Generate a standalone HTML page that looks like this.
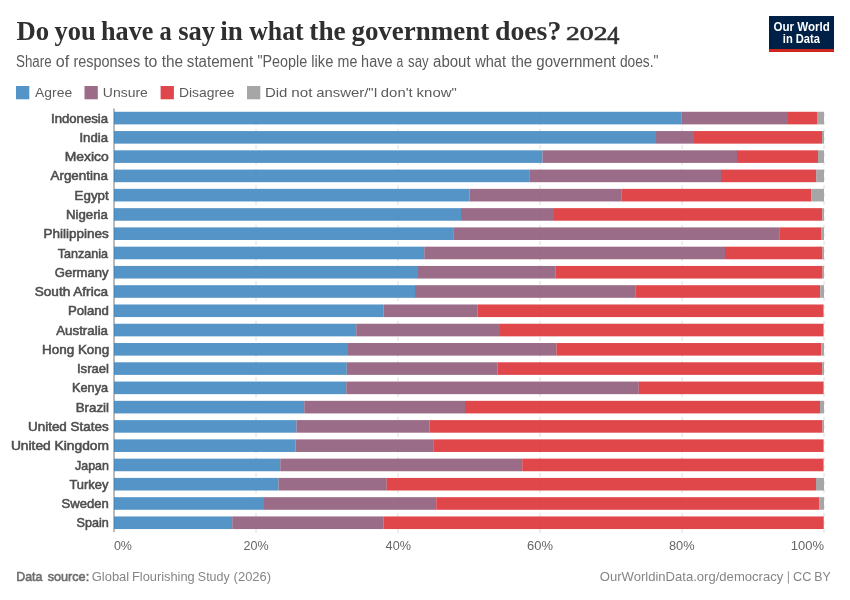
<!DOCTYPE html>
<html lang="en"><head><meta charset="utf-8"><title>Do you have a say in what the government does?</title>
<style>html,body{margin:0;padding:0;background:#fff;}body{width:850px;height:600px;overflow:hidden;font-family:"Liberation Sans",sans-serif;}svg{display:block;will-change:transform;}text{font-family:"Liberation Sans",sans-serif;white-space:pre;}.serif{font-family:"Liberation Serif",serif;}</style>
</head><body>
<svg width="850" height="600" viewBox="0 0 850 600">
<rect width="850" height="600" fill="#fff"/>
<rect x="769" y="16" width="65" height="36" fill="#002147"/>
<rect x="769" y="49" width="65" height="3" fill="#ce261e"/>
<rect x="16" y="86" width="13.3" height="13.3" fill="#5594c6"/>
<rect x="84.5" y="86" width="13.3" height="13.3" fill="#9b6c87"/>
<rect x="160.6" y="86" width="13.3" height="13.3" fill="#e0474c"/>
<rect x="247" y="86" width="13.3" height="13.3" fill="#a6a6a6"/>
<line x1="256.0" y1="533" x2="256.0" y2="110" stroke="#dcdcdc" stroke-width="1" stroke-dasharray="4,4"/>
<line x1="398.0" y1="533" x2="398.0" y2="110" stroke="#dcdcdc" stroke-width="1" stroke-dasharray="4,4"/>
<line x1="540.0" y1="533" x2="540.0" y2="110" stroke="#dcdcdc" stroke-width="1" stroke-dasharray="4,4"/>
<line x1="682.0" y1="533" x2="682.0" y2="110" stroke="#dcdcdc" stroke-width="1" stroke-dasharray="4,4"/>
<line x1="824.0" y1="533" x2="824.0" y2="110" stroke="#dcdcdc" stroke-width="1" stroke-dasharray="4,4"/>
<line x1="114" y1="108.5" x2="114" y2="532" stroke="#787878" stroke-width="1"/>
<rect x="114.00" y="111.78" width="567.50" height="12.6" fill="#3781bc" fill-opacity="0.85"/>
<rect x="681.50" y="111.78" width="106.50" height="12.6" fill="#895272" fill-opacity="0.85"/>
<rect x="788.00" y="111.78" width="29.00" height="12.6" fill="#db272c" fill-opacity="0.85"/>
<rect x="817.00" y="111.78" width="7.00" height="12.6" fill="#969696" fill-opacity="0.85"/>
<rect x="114.00" y="131.05" width="542.00" height="12.6" fill="#3781bc" fill-opacity="0.85"/>
<rect x="656.00" y="131.05" width="38.00" height="12.6" fill="#895272" fill-opacity="0.85"/>
<rect x="694.00" y="131.05" width="128.00" height="12.6" fill="#db272c" fill-opacity="0.85"/>
<rect x="822.00" y="131.05" width="2.00" height="12.6" fill="#969696" fill-opacity="0.85"/>
<rect x="114.00" y="150.32" width="428.50" height="12.6" fill="#3781bc" fill-opacity="0.85"/>
<rect x="542.50" y="150.32" width="194.50" height="12.6" fill="#895272" fill-opacity="0.85"/>
<rect x="737.00" y="150.32" width="81.00" height="12.6" fill="#db272c" fill-opacity="0.85"/>
<rect x="818.00" y="150.32" width="6.00" height="12.6" fill="#969696" fill-opacity="0.85"/>
<rect x="114.00" y="169.59" width="415.25" height="12.6" fill="#3781bc" fill-opacity="0.85"/>
<rect x="529.25" y="169.59" width="191.75" height="12.6" fill="#895272" fill-opacity="0.85"/>
<rect x="721.00" y="169.59" width="95.25" height="12.6" fill="#db272c" fill-opacity="0.85"/>
<rect x="816.25" y="169.59" width="7.75" height="12.6" fill="#969696" fill-opacity="0.85"/>
<rect x="114.00" y="188.86" width="355.50" height="12.6" fill="#3781bc" fill-opacity="0.85"/>
<rect x="469.50" y="188.86" width="152.25" height="12.6" fill="#895272" fill-opacity="0.85"/>
<rect x="621.75" y="188.86" width="189.50" height="12.6" fill="#db272c" fill-opacity="0.85"/>
<rect x="811.25" y="188.86" width="12.75" height="12.6" fill="#969696" fill-opacity="0.85"/>
<rect x="114.00" y="208.13" width="347.00" height="12.6" fill="#3781bc" fill-opacity="0.85"/>
<rect x="461.00" y="208.13" width="93.00" height="12.6" fill="#895272" fill-opacity="0.85"/>
<rect x="554.00" y="208.13" width="268.25" height="12.6" fill="#db272c" fill-opacity="0.85"/>
<rect x="822.25" y="208.13" width="1.75" height="12.6" fill="#969696" fill-opacity="0.85"/>
<rect x="114.00" y="227.40" width="339.25" height="12.6" fill="#3781bc" fill-opacity="0.85"/>
<rect x="453.25" y="227.40" width="326.00" height="12.6" fill="#895272" fill-opacity="0.85"/>
<rect x="779.25" y="227.40" width="41.75" height="12.6" fill="#db272c" fill-opacity="0.85"/>
<rect x="821.00" y="227.40" width="3.00" height="12.6" fill="#969696" fill-opacity="0.85"/>
<rect x="114.00" y="246.67" width="310.25" height="12.6" fill="#3781bc" fill-opacity="0.85"/>
<rect x="424.25" y="246.67" width="300.75" height="12.6" fill="#895272" fill-opacity="0.85"/>
<rect x="725.00" y="246.67" width="97.50" height="12.6" fill="#db272c" fill-opacity="0.85"/>
<rect x="822.50" y="246.67" width="1.50" height="12.6" fill="#969696" fill-opacity="0.85"/>
<rect x="114.00" y="265.94" width="304.00" height="12.6" fill="#3781bc" fill-opacity="0.85"/>
<rect x="418.00" y="265.94" width="137.50" height="12.6" fill="#895272" fill-opacity="0.85"/>
<rect x="555.50" y="265.94" width="267.00" height="12.6" fill="#db272c" fill-opacity="0.85"/>
<rect x="822.50" y="265.94" width="1.50" height="12.6" fill="#969696" fill-opacity="0.85"/>
<rect x="114.00" y="285.21" width="301.00" height="12.6" fill="#3781bc" fill-opacity="0.85"/>
<rect x="415.00" y="285.21" width="220.75" height="12.6" fill="#895272" fill-opacity="0.85"/>
<rect x="635.75" y="285.21" width="184.50" height="12.6" fill="#db272c" fill-opacity="0.85"/>
<rect x="820.25" y="285.21" width="3.75" height="12.6" fill="#969696" fill-opacity="0.85"/>
<rect x="114.00" y="304.48" width="269.50" height="12.6" fill="#3781bc" fill-opacity="0.85"/>
<rect x="383.50" y="304.48" width="94.00" height="12.6" fill="#895272" fill-opacity="0.85"/>
<rect x="477.50" y="304.48" width="345.75" height="12.6" fill="#db272c" fill-opacity="0.85"/>
<rect x="823.25" y="304.48" width="0.75" height="12.6" fill="#969696" fill-opacity="0.85"/>
<rect x="114.00" y="323.75" width="242.25" height="12.6" fill="#3781bc" fill-opacity="0.85"/>
<rect x="356.25" y="323.75" width="143.75" height="12.6" fill="#895272" fill-opacity="0.85"/>
<rect x="500.00" y="323.75" width="323.25" height="12.6" fill="#db272c" fill-opacity="0.85"/>
<rect x="823.25" y="323.75" width="0.75" height="12.6" fill="#969696" fill-opacity="0.85"/>
<rect x="114.00" y="343.02" width="234.00" height="12.6" fill="#3781bc" fill-opacity="0.85"/>
<rect x="348.00" y="343.02" width="208.50" height="12.6" fill="#895272" fill-opacity="0.85"/>
<rect x="556.50" y="343.02" width="264.75" height="12.6" fill="#db272c" fill-opacity="0.85"/>
<rect x="821.25" y="343.02" width="2.75" height="12.6" fill="#969696" fill-opacity="0.85"/>
<rect x="114.00" y="362.29" width="232.75" height="12.6" fill="#3781bc" fill-opacity="0.85"/>
<rect x="346.75" y="362.29" width="150.75" height="12.6" fill="#895272" fill-opacity="0.85"/>
<rect x="497.50" y="362.29" width="324.75" height="12.6" fill="#db272c" fill-opacity="0.85"/>
<rect x="822.25" y="362.29" width="1.75" height="12.6" fill="#969696" fill-opacity="0.85"/>
<rect x="114.00" y="381.56" width="232.25" height="12.6" fill="#3781bc" fill-opacity="0.85"/>
<rect x="346.25" y="381.56" width="292.50" height="12.6" fill="#895272" fill-opacity="0.85"/>
<rect x="638.75" y="381.56" width="184.75" height="12.6" fill="#db272c" fill-opacity="0.85"/>
<rect x="823.50" y="381.56" width="0.50" height="12.6" fill="#969696" fill-opacity="0.85"/>
<rect x="114.00" y="400.83" width="190.25" height="12.6" fill="#3781bc" fill-opacity="0.85"/>
<rect x="304.25" y="400.83" width="160.75" height="12.6" fill="#895272" fill-opacity="0.85"/>
<rect x="465.00" y="400.83" width="355.00" height="12.6" fill="#db272c" fill-opacity="0.85"/>
<rect x="820.00" y="400.83" width="4.00" height="12.6" fill="#969696" fill-opacity="0.85"/>
<rect x="114.00" y="420.10" width="182.50" height="12.6" fill="#3781bc" fill-opacity="0.85"/>
<rect x="296.50" y="420.10" width="133.00" height="12.6" fill="#895272" fill-opacity="0.85"/>
<rect x="429.50" y="420.10" width="393.00" height="12.6" fill="#db272c" fill-opacity="0.85"/>
<rect x="822.50" y="420.10" width="1.50" height="12.6" fill="#969696" fill-opacity="0.85"/>
<rect x="114.00" y="439.37" width="181.50" height="12.6" fill="#3781bc" fill-opacity="0.85"/>
<rect x="295.50" y="439.37" width="137.75" height="12.6" fill="#895272" fill-opacity="0.85"/>
<rect x="433.25" y="439.37" width="390.25" height="12.6" fill="#db272c" fill-opacity="0.85"/>
<rect x="823.50" y="439.37" width="0.50" height="12.6" fill="#969696" fill-opacity="0.85"/>
<rect x="114.00" y="458.64" width="166.25" height="12.6" fill="#3781bc" fill-opacity="0.85"/>
<rect x="280.25" y="458.64" width="242.00" height="12.6" fill="#895272" fill-opacity="0.85"/>
<rect x="522.25" y="458.64" width="301.05" height="12.6" fill="#db272c" fill-opacity="0.85"/>
<rect x="823.30" y="458.64" width="0.70" height="12.6" fill="#969696" fill-opacity="0.85"/>
<rect x="114.00" y="477.91" width="164.50" height="12.6" fill="#3781bc" fill-opacity="0.85"/>
<rect x="278.50" y="477.91" width="108.25" height="12.6" fill="#895272" fill-opacity="0.85"/>
<rect x="386.75" y="477.91" width="429.25" height="12.6" fill="#db272c" fill-opacity="0.85"/>
<rect x="816.00" y="477.91" width="8.00" height="12.6" fill="#969696" fill-opacity="0.85"/>
<rect x="114.00" y="497.18" width="150.00" height="12.6" fill="#3781bc" fill-opacity="0.85"/>
<rect x="264.00" y="497.18" width="172.25" height="12.6" fill="#895272" fill-opacity="0.85"/>
<rect x="436.25" y="497.18" width="383.00" height="12.6" fill="#db272c" fill-opacity="0.85"/>
<rect x="819.25" y="497.18" width="4.75" height="12.6" fill="#969696" fill-opacity="0.85"/>
<rect x="114.00" y="516.45" width="118.25" height="12.6" fill="#3781bc" fill-opacity="0.85"/>
<rect x="232.25" y="516.45" width="151.25" height="12.6" fill="#895272" fill-opacity="0.85"/>
<rect x="383.50" y="516.45" width="440.20" height="12.6" fill="#db272c" fill-opacity="0.85"/>
<rect x="823.70" y="516.45" width="0.30" height="12.6" fill="#969696" fill-opacity="0.85"/>
<line x1="788.4" y1="571.4" x2="788.4" y2="583.6" stroke="#858585" stroke-width="0.9"/>
<text id="yr" x="566.05" y="40.0" font-size="19" fill="#2f2f2f" class="serif" stroke="#2f2f2f" stroke-width="0.55" textLength="41.37" lengthAdjust="spacingAndGlyphs">202</text>
<text id="yr4" x="606.90" y="43.5" font-size="24.3" fill="#2f2f2f" class="serif" stroke="#2f2f2f" stroke-width="0.55" textLength="12.44" lengthAdjust="spacingAndGlyphs">4</text>
<text id="lgd0" x="264.92" y="96.7" font-size="13.5" fill="#5b5b5b" textLength="22.48" lengthAdjust="spacingAndGlyphs">Did</text>
<text id="lgd1" x="291.29" y="96.7" font-size="13.5" fill="#5b5b5b" textLength="21.17" lengthAdjust="spacingAndGlyphs">not</text>
<text id="lgd2" x="316.19" y="96.7" font-size="13.5" fill="#5b5b5b" textLength="61.58" lengthAdjust="spacingAndGlyphs">answer/"I</text>
<text id="lgd3" x="380.84" y="96.7" font-size="13.5" fill="#5b5b5b" textLength="31.82" lengthAdjust="spacingAndGlyphs">don't</text>
<text id="lgd4" x="416.63" y="96.7" font-size="13.5" fill="#5b5b5b" textLength="40.18" lengthAdjust="spacingAndGlyphs">know"</text>
<text id="fa0" x="16.26" y="581" font-size="13" fill="#6e6e6e" stroke="#6e6e6e" stroke-width="0.6" textLength="26.15" lengthAdjust="spacingAndGlyphs">Data</text>
<text id="fa1" x="47.63" y="581" font-size="13" fill="#6e6e6e" stroke="#6e6e6e" stroke-width="0.6" textLength="41.57" lengthAdjust="spacingAndGlyphs">source:</text>
<text id="fb0" x="91.69" y="581" font-size="13" fill="#858585" textLength="37.52" lengthAdjust="spacingAndGlyphs">Global</text>
<text id="fb1" x="131.99" y="581" font-size="13" fill="#858585" textLength="62.77" lengthAdjust="spacingAndGlyphs">Flourishing</text>
<text id="fb2" x="197.85" y="581" font-size="13" fill="#858585" textLength="31.81" lengthAdjust="spacingAndGlyphs">Study</text>
<text id="fb3" x="233.58" y="581" font-size="13" fill="#858585" textLength="37.54" lengthAdjust="spacingAndGlyphs">(2026)</text>
<text id="fc0" x="599.80" y="581" font-size="13" fill="#858585" textLength="183.45" lengthAdjust="spacingAndGlyphs">OurWorldinData.org/democracy</text>
<text id="fc1" x="793.04" y="581" font-size="13" fill="#858585" textLength="18.38" lengthAdjust="spacingAndGlyphs">CC</text>
<text id="fc2" x="814.28" y="581" font-size="13" fill="#858585" textLength="16.38" lengthAdjust="spacingAndGlyphs">BY</text>
<text id="ti0" x="16.49" y="39.85" font-size="27.5" fill="#2f2f2f" font-weight="bold" class="serif" textLength="32.69" lengthAdjust="spacingAndGlyphs">Do</text>
<text id="ti1" x="54.44" y="39.85" font-size="27.5" fill="#2f2f2f" font-weight="bold" class="serif" textLength="41.16" lengthAdjust="spacingAndGlyphs">you</text>
<text id="ti2" x="101.04" y="39.85" font-size="27.5" fill="#2f2f2f" font-weight="bold" class="serif" textLength="52.38" lengthAdjust="spacingAndGlyphs">have</text>
<text id="ti3" x="159.54" y="39.85" font-size="27.5" fill="#2f2f2f" font-weight="bold" class="serif" textLength="12.23" lengthAdjust="spacingAndGlyphs">a</text>
<text id="ti4" x="178.25" y="39.85" font-size="27.5" fill="#2f2f2f" font-weight="bold" class="serif" textLength="36.86" lengthAdjust="spacingAndGlyphs">say</text>
<text id="ti5" x="220.34" y="39.85" font-size="27.5" fill="#2f2f2f" font-weight="bold" class="serif" textLength="22.57" lengthAdjust="spacingAndGlyphs">in</text>
<text id="ti6" x="249.20" y="39.85" font-size="27.5" fill="#2f2f2f" font-weight="bold" class="serif" textLength="54.45" lengthAdjust="spacingAndGlyphs">what</text>
<text id="ti7" x="309.29" y="39.85" font-size="27.5" fill="#2f2f2f" font-weight="bold" class="serif" textLength="36.46" lengthAdjust="spacingAndGlyphs">the</text>
<text id="ti8" x="351.40" y="39.85" font-size="27.5" fill="#2f2f2f" font-weight="bold" class="serif" textLength="137.85" lengthAdjust="spacingAndGlyphs">government</text>
<text id="ti9" x="494.97" y="39.85" font-size="27.5" fill="#2f2f2f" font-weight="bold" class="serif" textLength="66.33" lengthAdjust="spacingAndGlyphs">does?</text>
<text id="su0" x="16.04" y="66.7" font-size="15.6" fill="#5b5b5b" textLength="35.58" lengthAdjust="spacingAndGlyphs">Share</text>
<text id="su1" x="55.77" y="66.7" font-size="15.6" fill="#5b5b5b" textLength="13.45" lengthAdjust="spacingAndGlyphs">of</text>
<text id="su2" x="73.44" y="66.7" font-size="15.6" fill="#5b5b5b" textLength="66.67" lengthAdjust="spacingAndGlyphs">responses</text>
<text id="su3" x="144.18" y="66.7" font-size="15.6" fill="#5b5b5b" textLength="13.27" lengthAdjust="spacingAndGlyphs">to</text>
<text id="su4" x="161.69" y="66.7" font-size="15.6" fill="#5b5b5b" textLength="21.42" lengthAdjust="spacingAndGlyphs">the</text>
<text id="su5" x="186.85" y="66.7" font-size="15.6" fill="#5b5b5b" textLength="66.30" lengthAdjust="spacingAndGlyphs">statement</text>
<text id="su6" x="257.39" y="66.7" font-size="15.6" fill="#5b5b5b" textLength="49.76" lengthAdjust="spacingAndGlyphs">"People</text>
<text id="su7" x="311.26" y="66.7" font-size="15.6" fill="#5b5b5b" textLength="22.07" lengthAdjust="spacingAndGlyphs">like</text>
<text id="su8" x="337.56" y="66.7" font-size="15.6" fill="#5b5b5b" textLength="19.77" lengthAdjust="spacingAndGlyphs">me</text>
<text id="su9" x="361.12" y="66.7" font-size="15.6" fill="#5b5b5b" textLength="31.34" lengthAdjust="spacingAndGlyphs">have</text>
<text id="su10" x="396.56" y="66.7" font-size="15.6" fill="#5b5b5b" textLength="6.75" lengthAdjust="spacingAndGlyphs">a</text>
<text id="su11" x="408.01" y="66.7" font-size="15.6" fill="#5b5b5b" textLength="20.65" lengthAdjust="spacingAndGlyphs">say</text>
<text id="su12" x="433.04" y="66.7" font-size="15.6" fill="#5b5b5b" textLength="37.57" lengthAdjust="spacingAndGlyphs">about</text>
<text id="su13" x="475.14" y="66.7" font-size="15.6" fill="#5b5b5b" textLength="30.86" lengthAdjust="spacingAndGlyphs">what</text>
<text id="su14" x="511.25" y="66.7" font-size="15.6" fill="#5b5b5b" textLength="21.00" lengthAdjust="spacingAndGlyphs">the</text>
<text id="su15" x="536.25" y="66.7" font-size="15.6" fill="#5b5b5b" textLength="79.55" lengthAdjust="spacingAndGlyphs">government</text>
<text id="su16" x="619.88" y="66.7" font-size="15.6" fill="#5b5b5b" textLength="38.58" lengthAdjust="spacingAndGlyphs">does."</text>
<text id="logo1" x="773.41" y="30.5" font-size="12" fill="#ffffff" font-weight="bold" textLength="56.47" lengthAdjust="spacingAndGlyphs">Our World</text>
<text id="logo2" x="782.80" y="42.7" font-size="12" fill="#ffffff" font-weight="bold" textLength="37.21" lengthAdjust="spacingAndGlyphs">in Data</text>
<text id="lg1" x="35.03" y="96.7" font-size="13.5" fill="#5b5b5b" textLength="37.11" lengthAdjust="spacingAndGlyphs">Agree</text>
<text id="lg2" x="102.86" y="96.7" font-size="13.5" fill="#5b5b5b" textLength="44.92" lengthAdjust="spacingAndGlyphs">Unsure</text>
<text id="lg3" x="178.96" y="96.7" font-size="13.5" fill="#5b5b5b" textLength="55.57" lengthAdjust="spacingAndGlyphs">Disagree</text>
<text id="c0" x="50.98" y="122.68" font-size="12.6" fill="#4e4e4e" stroke="#4e4e4e" stroke-width="0.55" textLength="57.16" lengthAdjust="spacingAndGlyphs">Indonesia</text>
<text id="c1" x="79.48" y="141.95" font-size="12.6" fill="#4e4e4e" stroke="#4e4e4e" stroke-width="0.55" textLength="28.48" lengthAdjust="spacingAndGlyphs">India</text>
<text id="c2" x="64.70" y="161.22" font-size="12.6" fill="#4e4e4e" stroke="#4e4e4e" stroke-width="0.55" textLength="44.03" lengthAdjust="spacingAndGlyphs">Mexico</text>
<text id="c3" x="50.50" y="180.49" font-size="12.6" fill="#4e4e4e" stroke="#4e4e4e" stroke-width="0.55" textLength="57.40" lengthAdjust="spacingAndGlyphs">Argentina</text>
<text id="c4" x="74.62" y="199.76" font-size="12.6" fill="#4e4e4e" stroke="#4e4e4e" stroke-width="0.55" textLength="34.03" lengthAdjust="spacingAndGlyphs">Egypt</text>
<text id="c5" x="65.99" y="219.03" font-size="12.6" fill="#4e4e4e" stroke="#4e4e4e" stroke-width="0.55" textLength="41.95" lengthAdjust="spacingAndGlyphs">Nigeria</text>
<text id="c6" x="43.47" y="238.3" font-size="12.6" fill="#4e4e4e" stroke="#4e4e4e" stroke-width="0.55" textLength="65.16" lengthAdjust="spacingAndGlyphs">Philippines</text>
<text id="c7" x="57.75" y="257.57" font-size="12.6" fill="#4e4e4e" stroke="#4e4e4e" stroke-width="0.55" textLength="50.31" lengthAdjust="spacingAndGlyphs">Tanzania</text>
<text id="c8" x="54.79" y="276.84" font-size="12.6" fill="#4e4e4e" stroke="#4e4e4e" stroke-width="0.55" textLength="53.74" lengthAdjust="spacingAndGlyphs">Germany</text>
<text id="c9" x="34.69" y="296.11" font-size="12.6" fill="#4e4e4e" stroke="#4e4e4e" stroke-width="0.55" textLength="73.37" lengthAdjust="spacingAndGlyphs">South Africa</text>
<text id="c10" x="67.94" y="315.38" font-size="12.6" fill="#4e4e4e" stroke="#4e4e4e" stroke-width="0.55" textLength="41.01" lengthAdjust="spacingAndGlyphs">Poland</text>
<text id="c11" x="56.20" y="334.65" font-size="12.6" fill="#4e4e4e" stroke="#4e4e4e" stroke-width="0.55" textLength="51.82" lengthAdjust="spacingAndGlyphs">Australia</text>
<text id="c12" x="41.97" y="353.92" font-size="12.6" fill="#4e4e4e" stroke="#4e4e4e" stroke-width="0.55" textLength="67.36" lengthAdjust="spacingAndGlyphs">Hong Kong</text>
<text id="c13" x="76.93" y="373.19" font-size="12.6" fill="#4e4e4e" stroke="#4e4e4e" stroke-width="0.55" textLength="32.08" lengthAdjust="spacingAndGlyphs">Israel</text>
<text id="c14" x="72.02" y="392.46" font-size="12.6" fill="#4e4e4e" stroke="#4e4e4e" stroke-width="0.55" textLength="36.12" lengthAdjust="spacingAndGlyphs">Kenya</text>
<text id="c15" x="75.73" y="411.73" font-size="12.6" fill="#4e4e4e" stroke="#4e4e4e" stroke-width="0.55" textLength="33.31" lengthAdjust="spacingAndGlyphs">Brazil</text>
<text id="c16" x="28.03" y="431.0" font-size="12.6" fill="#4e4e4e" stroke="#4e4e4e" stroke-width="0.55" textLength="80.59" lengthAdjust="spacingAndGlyphs">United States</text>
<text id="c17" x="10.90" y="450.27" font-size="12.6" fill="#4e4e4e" stroke="#4e4e4e" stroke-width="0.55" textLength="98.10" lengthAdjust="spacingAndGlyphs">United Kingdom</text>
<text id="c18" x="75.00" y="469.54" font-size="12.6" fill="#4e4e4e" stroke="#4e4e4e" stroke-width="0.55" textLength="33.90" lengthAdjust="spacingAndGlyphs">Japan</text>
<text id="c19" x="69.44" y="488.81" font-size="12.6" fill="#4e4e4e" stroke="#4e4e4e" stroke-width="0.55" textLength="39.01" lengthAdjust="spacingAndGlyphs">Turkey</text>
<text id="c20" x="61.54" y="508.08" font-size="12.6" fill="#4e4e4e" stroke="#4e4e4e" stroke-width="0.55" textLength="47.25" lengthAdjust="spacingAndGlyphs">Sweden</text>
<text id="c21" x="76.56" y="527.35" font-size="12.6" fill="#4e4e4e" stroke="#4e4e4e" stroke-width="0.55" textLength="32.24" lengthAdjust="spacingAndGlyphs">Spain</text>
<text id="t0" x="113.92" y="550.4" font-size="12" fill="#666666" textLength="18.05" lengthAdjust="spacingAndGlyphs">0%</text>
<text id="t1" x="243.48" y="550.4" font-size="12" fill="#666666" textLength="25.08" lengthAdjust="spacingAndGlyphs">20%</text>
<text id="t2" x="385.63" y="550.4" font-size="12" fill="#666666" textLength="25.29" lengthAdjust="spacingAndGlyphs">40%</text>
<text id="t3" x="527.03" y="550.4" font-size="12" fill="#666666" textLength="25.96" lengthAdjust="spacingAndGlyphs">60%</text>
<text id="t4" x="669.00" y="550.4" font-size="12" fill="#666666" textLength="25.57" lengthAdjust="spacingAndGlyphs">80%</text>
<text id="t5" x="790.81" y="550.4" font-size="12" fill="#666666" textLength="33.23" lengthAdjust="spacingAndGlyphs">100%</text>
</svg>
</body></html>
